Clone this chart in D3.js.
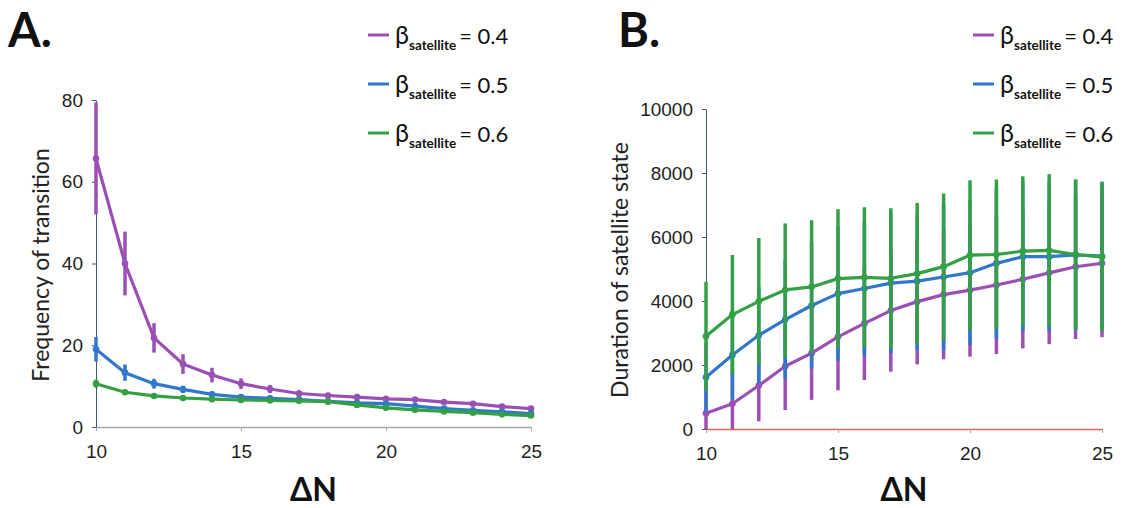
<!DOCTYPE html>
<html><head><meta charset="utf-8">
<script src="https://cdn.jsdelivr.net/npm/d3@7"></script>
<style>body{margin:0;background:#fff}svg{display:block}</style>
</head><body>
<script>
const dN = [10,11,12,13,14,15,16,17,18,19,20,21,22,23,24,25];
const seriesNames = ["0.4","0.5","0.6"];
const colors = ["#9B4FB4","#2F78CC","#34A046"];

// Panel A: frequency of transition
const freq04 = [65.7,40.0,21.8,15.4,12.7,10.6,9.3,8.2,7.7,7.3,6.9,6.7,6.1,5.7,5.0,4.5];
const freq04Err = [13.7,7.8,3.6,2.4,1.8,1.3,1.0,0.8,0.6,0.6,0.5,0.5,0.5,0.5,0.5,0.4];
const freq05 = [19.0,13.3,10.6,9.2,8.0,7.3,7.0,6.7,6.3,5.9,5.7,5.1,4.5,4.1,3.7,3.3];
const freq05Err = [3.0,2.0,1.2,0.9,0.7,0.5,0.4,0.4,0.4,0.3,0.3,0.3,0.3,0.3,0.3,0.3];
const freq06 = [10.6,8.5,7.6,7.1,6.8,6.6,6.5,6.4,6.2,5.4,4.7,4.2,3.8,3.5,3.1,2.8];
const freq06Err = [1.0,0.6,0.4,0.3,0.3,0.3,0.3,0.3,0.3,0.3,0.3,0.3,0.3,0.3,0.3,0.3];

// Panel B: duration of satellite state
const dur04 = [490,790,1360,1960,2370,2880,3300,3700,3980,4200,4340,4500,4680,4880,5070,5180];
const dur04Err = [1000,1100,1120,1370,1460,1670,1770,1910,1960,2020,2080,2160,2160,2230,2260,2310];
const dur05 = [1615,2315,2930,3420,3860,4230,4390,4560,4620,4750,4885,5177,5385,5385,5440,5400];
const dur05Err = [1075,1406,1510,1840,1975,2100,2100,2190,2140,2290,2260,2340,2340,2340,2350,2330];
const dur06 = [2900,3575,3990,4345,4440,4700,4737,4710,4855,5073,5432,5453,5558,5584,5453,5375];
const dur06Err = [1700,1860,1980,2080,2080,2170,2190,2190,2210,2290,2340,2340,2340,2380,2340,2320];

const xTicks = [10,15,20,25];
const yTicksA = [0,20,40,60,80];
const yTicksB = [0,2000,4000,6000,8000,10000];

const W = 1122, H = 508;
const svg = d3.select("body").append("svg").attr("width",W).attr("height",H)
  .style("font-family","Lato, 'Open Sans', sans-serif");

function panel(opt){
  const g = svg.append("g");
  const x = d3.scaleLinear().domain([10,25]).range(opt.xr);
  const y = d3.scaleLinear().domain(opt.yd).range(opt.yr);
  // x axis
  const xa = g.append("g").attr("transform",`translate(0,${opt.yr[0]})`)
    .call(d3.axisBottom(x).tickValues(xTicks).tickSize(4).tickPadding(14).tickSizeOuter(0).tickFormat(d3.format("d")));
  xa.select(".domain").attr("stroke",opt.xAxisColor).attr("stroke-width",1.3);
  xa.selectAll(".tick line").attr("stroke","#9ab");
  xa.selectAll("text").attr("font-size",19).attr("fill","#222");
  // y axis
  const ya = g.append("g").attr("transform",`translate(${opt.xr[0]},0)`)
    .call(d3.axisLeft(y).tickValues(opt.yTicks).tickSize(4).tickPadding(9).tickSizeOuter(0).tickFormat(d3.format("d")));
  ya.select(".domain").attr("stroke","#3d5a66").attr("stroke-width",1);
  ya.selectAll(".tick line").attr("stroke","#3d5a66");
  ya.selectAll("text").attr("font-size",19).attr("fill","#222");
  // series
  opt.series.forEach((s,i)=>{
    const c = colors[i];
    const sg = g.append("g");
    const [ylo, yhi] = opt.yd;
    sg.selectAll("line.err").data(dN.map((d,j)=>({d, v:s.v[j], e:s.e[j]})))
      .join("line").attr("class","err")
      .attr("x1",d=>x(d.d)).attr("x2",d=>x(d.d))
      .attr("y1",d=>y(Math.max(ylo, d.v-d.e))).attr("y2",d=>y(Math.min(yhi, d.v+d.e)))
      .attr("stroke",c).attr("stroke-width",3.5);
    sg.append("path").datum(dN.map((d,j)=>[d,s.v[j]]))
      .attr("d",d3.line().x(d=>x(d[0])).y(d=>y(d[1])))
      .attr("fill","none").attr("stroke",c).attr("stroke-width",3.2).attr("stroke-linejoin","round");
    sg.selectAll("circle").data(dN.map((d,j)=>[d,s.v[j]])).join("circle")
      .attr("cx",d=>x(d[0])).attr("cy",d=>y(d[1])).attr("r",3.3).attr("fill",c);
  });
  // axis titles
  g.append("text").attr("transform",`translate(${opt.ylabX},${opt.ylabY}) rotate(-90)`)
    .attr("text-anchor","middle").attr("font-size",23).attr("fill","#222").text(opt.ylab);
  g.append("text").attr("x",(opt.xr[0]+opt.xr[1])/2).attr("y",501)
    .attr("text-anchor","middle").attr("font-size",32).attr("font-weight","bold").attr("fill","#111").text("ΔN");
  // panel letter
  g.append("text").attr("x",opt.letterX).attr("y",47).attr("font-size",47).attr("font-weight","bold")
    .attr("fill","#111").text(opt.letter);
  // legend
  seriesNames.forEach((n,i)=>{
    const ly = 35 + i*49;
    g.append("line").attr("x1",opt.legX).attr("x2",opt.legX+21).attr("y1",ly).attr("y2",ly)
      .attr("stroke",colors[i]).attr("stroke-width",3);
    const t = g.append("text").attr("x",opt.legX+27).attr("y",ly+9).attr("fill","#111");
    t.append("tspan").attr("font-size",25).text("β");
    t.append("tspan").attr("font-size",13.5).attr("dy",6).attr("font-weight","bold").text("satellite");
    t.append("tspan").attr("font-size",22).attr("dy",-6).attr("dx",3).text("= " + n);
  });
}

panel({xr:[96,531], yr:[427,100], yd:[0,80], yTicks:yTicksA, ylab:"Frequency of transition", ylabX:49, ylabY:265,
  letter:"A.", letterX:8, legX:368, xAxisColor:"#a8a8a8",
  series:[{v:freq04,e:freq04Err},{v:freq05,e:freq05Err},{v:freq06,e:freq06Err}]});
panel({xr:[706,1102], yr:[429,109], yd:[0,10000], yTicks:yTicksB, ylab:"Duration of satellite state", ylabX:628, ylabY:270,
  letter:"B.", letterX:618, legX:973, xAxisColor:"#E06A4A",
  series:[{v:dur04,e:dur04Err},{v:dur05,e:dur05Err},{v:dur06,e:dur06Err}]});
</script>
</body></html>
